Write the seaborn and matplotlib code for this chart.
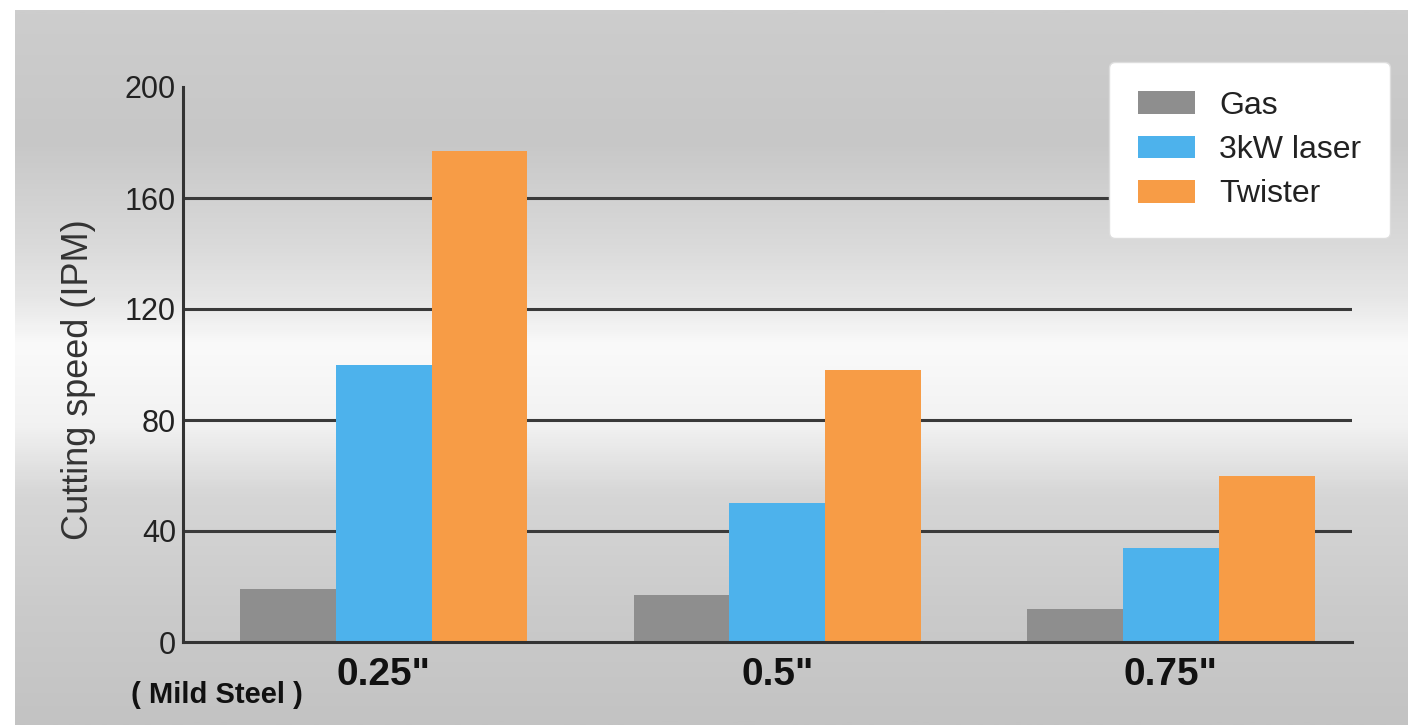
import numpy as np
import pandas as pd
import matplotlib
matplotlib.use("Agg")
import matplotlib.pyplot as plt
from matplotlib.colors import LinearSegmentedColormap
import seaborn as sns

# Data
thickness = ['0.25"', '0.5"', '0.75"']
gas = [19, 17, 12]
laser_3kw = [100, 50, 34]
twister = [177, 98, 60]
series_names = ["Gas", "3kW laser", "Twister"]
y_ticks = [0, 40, 80, 120, 160, 200]

df = pd.DataFrame({
    "thickness": thickness * 3,
    "speed": gas + laser_3kw + twister,
    "method": [n for n in series_names for _ in thickness],
})

palette = {"Gas": "#8e8e8e", "3kW laser": "#4db2ec", "Twister": "#f79c46"}

sns.set_style("white")
plt.rcParams["font.family"] = ["Liberation Sans", "DejaVu Sans"]

fig = plt.figure(figsize=(14.08, 7.25), dpi=100)
fig.patch.set_facecolor("white")

# Background: grey gradient with a light band across the middle
bg = fig.add_axes([15 / 1408, 0, 1 - 15 / 1408, 1 - 10 / 725])
bg_cmap = LinearSegmentedColormap.from_list("bg", [
    (0.0, "#cdcdcd"), (0.18, "#c7c7c7"), (0.32, "#d9d9d9"),
    (0.40, "#e6e6e6"), (0.47, "#fafafa"), (0.58, "#f2f2f2"),
    (0.68, "#d6d6d6"), (0.85, "#cacaca"), (1.0, "#c3c3c3")])
bg.imshow(np.linspace(0, 1, 300).reshape(-1, 1), aspect="auto", cmap=bg_cmap,
          extent=[0, 1, 0, 1])
bg.set_axis_off()

ax = fig.add_axes([183 / 1408, 1 - 642 / 725, (1352 - 183) / 1408, (642 - 87) / 725])
ax.set_facecolor("none")

sns.barplot(data=df, x="thickness", y="speed", hue="method", palette=palette,
            width=0.73, gap=0, saturation=1, linewidth=0, ax=ax, zorder=2, legend=True)

for t in y_ticks[1:-1]:
    ax.axhline(t, color="#3a3a3a", lw=2.2, zorder=1)

ax.set_ylim(0, 200)
ax.set_xlim(-0.51, 2.46)
ax.set_yticks(y_ticks)
ax.tick_params(axis="y", length=0, pad=5, labelsize=22, labelcolor="#222222")
ax.tick_params(axis="x", length=0, pad=11)
ax.set_xticks(range(len(thickness)))
ax.set_xticklabels(thickness, fontsize=28, fontweight="bold", color="#111111")
ax.set_xlabel("")
ax.set_ylabel("Cutting speed (IPM)", fontsize=26, color="#333333")
ax.yaxis.set_label_coords(-0.074, 0.472)

for s in ["top", "right"]:
    ax.spines[s].set_visible(False)
for s in ["left", "bottom"]:
    ax.spines[s].set_color("#333333")
    ax.spines[s].set_linewidth(2.2)

fig.text(217 / 1408, 1 - 695 / 725, "( Mild Steel )", fontsize=21, fontweight="bold",
         ha="center", va="center", color="#111111")

handles, labels = ax.get_legend_handles_labels()
ax.get_legend().remove()
leg = fig.legend(handles, labels, loc="upper right",
                 bbox_to_anchor=(1390 / 1408, 1 - 62 / 725), bbox_transform=fig.transFigure,
                 fontsize=23, frameon=True, fancybox=True, framealpha=1,
                 handlelength=1.8, handleheight=0.72, handletextpad=0.75,
                 labelspacing=0.45, borderpad=0.9, borderaxespad=0)
leg.get_frame().set_facecolor("white")
leg.get_frame().set_edgecolor("#dddddd")
for txt in leg.get_texts():
    txt.set_color("#222222")

fig.savefig("out.png", dpi=100)
